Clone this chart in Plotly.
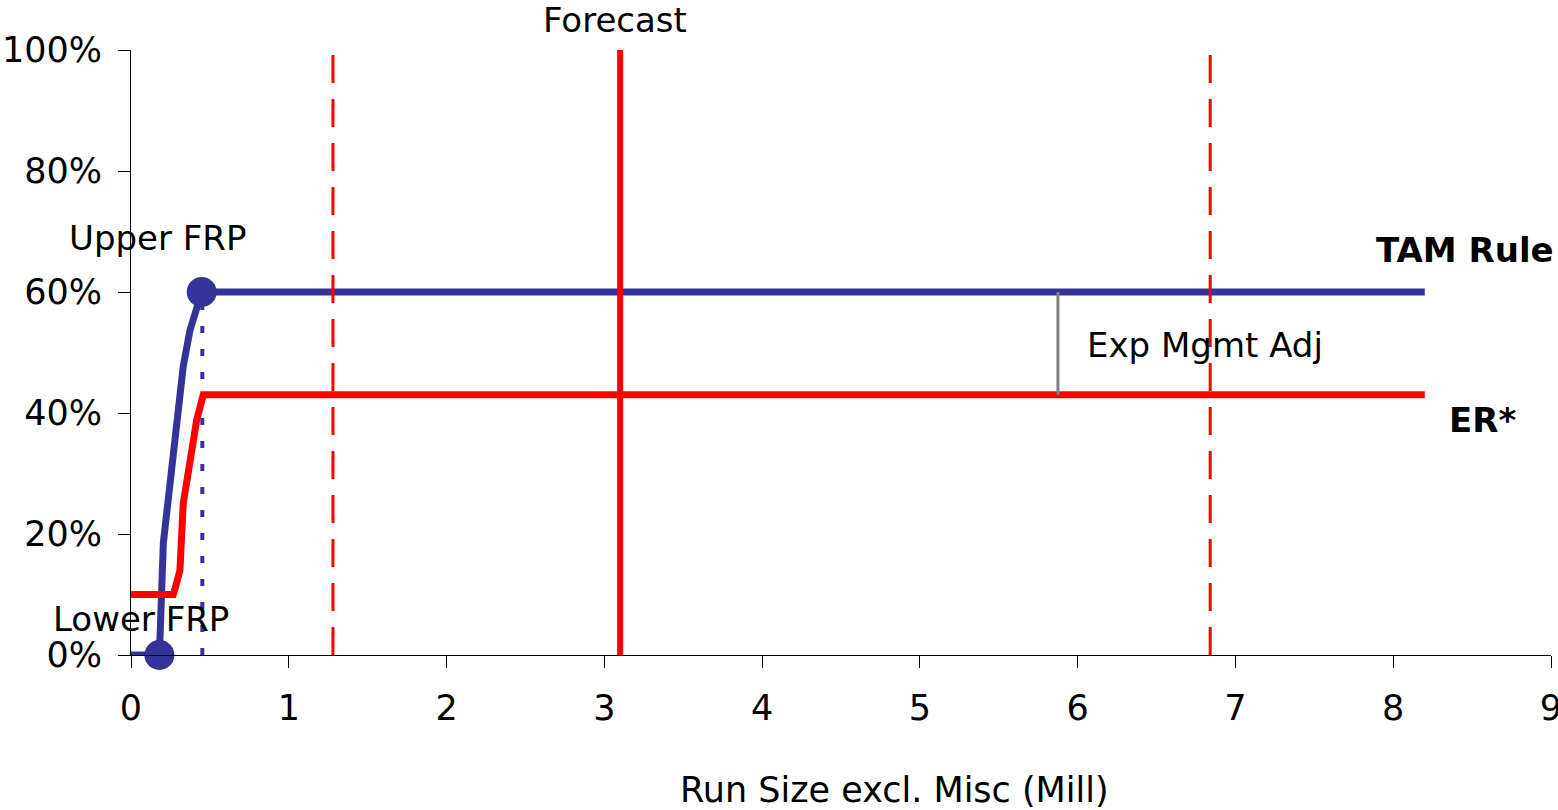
import plotly.graph_objects as go

# Data
tam_x = [0, 0.18, 0.205, 0.258, 0.29, 0.331, 0.374, 0.448, 8.2]
tam_y = [0, 0, 0.185, 0.31, 0.405, 0.477, 0.537, 0.60, 0.60]
er_x = [0, 0.268, 0.285, 0.31, 0.331, 0.385, 0.416, 0.458, 8.2]
er_y = [0.10, 0.10, 0.115, 0.14, 0.25, 0.333, 0.388, 0.43, 0.43]
frp_x = [0.18, 0.448]
frp_y = [0.0, 0.60]
frp_labels = ["Lower FRP", "Upper FRP"]
upper_frp_drop_x = 0.452
forecast = 3.1
forecast_low = 1.28
forecast_high = 6.84
exp_adj_x = 5.875
x_ticks = list(range(0, 10))
y_ticks = [0, 0.2, 0.4, 0.6, 0.8, 1.0]
x_title = "Run Size excl. Misc (Mill)"

FONT = "DejaVu Sans, Verdana, sans-serif"
BLUE = "#333399"
RED = "#FF0000"

fig = go.Figure()

# dotted blue drop line from Upper FRP
fig.add_trace(go.Scatter(x=[upper_frp_drop_x, upper_frp_drop_x], y=[0, frp_y[1]], mode="lines",
                         line=dict(color=BLUE, width=4, dash="7px,16px"), hoverinfo="skip"))
# TAM rule curve
fig.add_trace(go.Scatter(x=tam_x, y=tam_y, mode="lines", line=dict(color=BLUE, width=7), name="TAM Rule"))
# ER* curve
fig.add_trace(go.Scatter(x=er_x, y=er_y, mode="lines", line=dict(color=RED, width=7), name="ER*"))
# Exp Mgmt Adj gap
fig.add_trace(go.Scatter(x=[exp_adj_x, exp_adj_x], y=[tam_y[-1], er_y[-1]], mode="lines",
                         line=dict(color="#808080", width=3)))
# forecast bounds
for xb in (forecast_low, forecast_high):
    fig.add_trace(go.Scatter(x=[xb, xb], y=[0, 1], mode="lines",
                             line=dict(color=RED, width=3, dash="28px,16px")))
# forecast
fig.add_trace(go.Scatter(x=[forecast, forecast], y=[0, 1], mode="lines", line=dict(color=RED, width=6)))
# FRP markers
fig.add_trace(go.Scatter(x=frp_x, y=frp_y, mode="markers", marker=dict(color=BLUE, size=30),
                         cliponaxis=False, text=frp_labels))

ann_font = dict(family=FONT, size=34, color="black")
bold_font = dict(family=FONT, size=34, color="black", weight="bold")
annotations = [
    dict(x=3.068, y=1.05, text="Forecast", font=ann_font, xref="x", yref="paper"),
    dict(x=0.168, y=0.689, text="Upper FRP", font=ann_font),
    dict(x=0.066, y=0.060, text="Lower FRP", font=ann_font),
    dict(x=8.455, y=0.669, text="<b>TAM Rule</b>", font=bold_font),
    dict(x=8.563, y=0.388, text="<b>ER*</b>", font=bold_font),
    dict(x=6.807, y=0.512, text="Exp Mgmt Adj", font=ann_font),
    dict(x=0.538, y=-0.223, text=x_title, font=dict(family=FONT, size=35, color="black"),
         xref="paper", yref="paper"),
]
for a in annotations:
    a.setdefault("xref", "x")
    a.setdefault("yref", "y")
    a.update(showarrow=False, xanchor="center", yanchor="middle")

fig.update_layout(
    width=1558, height=810, autosize=False,
    margin=dict(l=131, r=7, t=50, b=155),
    plot_bgcolor="white", paper_bgcolor="white",
    showlegend=False,
    font=dict(family=FONT, size=35, color="black"),
    annotations=annotations,
)
fig.update_xaxes(range=[0, 9], tickvals=x_ticks, ticks="outside", ticklen=12, tickcolor="black",
                 showline=True, linecolor="black", linewidth=1, showgrid=False, zeroline=False,
                 automargin=False,
                 tickfont=dict(family=FONT, size=35), ticklabelstandoff=10, ticklabeloverflow="allow")
fig.update_yaxes(range=[0, 1], tickvals=y_ticks, tickformat=".0%", ticks="outside", ticklen=12,
                 tickcolor="black", showline=True, linecolor="black", linewidth=1, showgrid=False,
                 zeroline=False, automargin=False, tickfont=dict(family=FONT, size=35), ticklabelstandoff=9,
                 ticklabeloverflow="allow")

fig.write_html("out.html")
